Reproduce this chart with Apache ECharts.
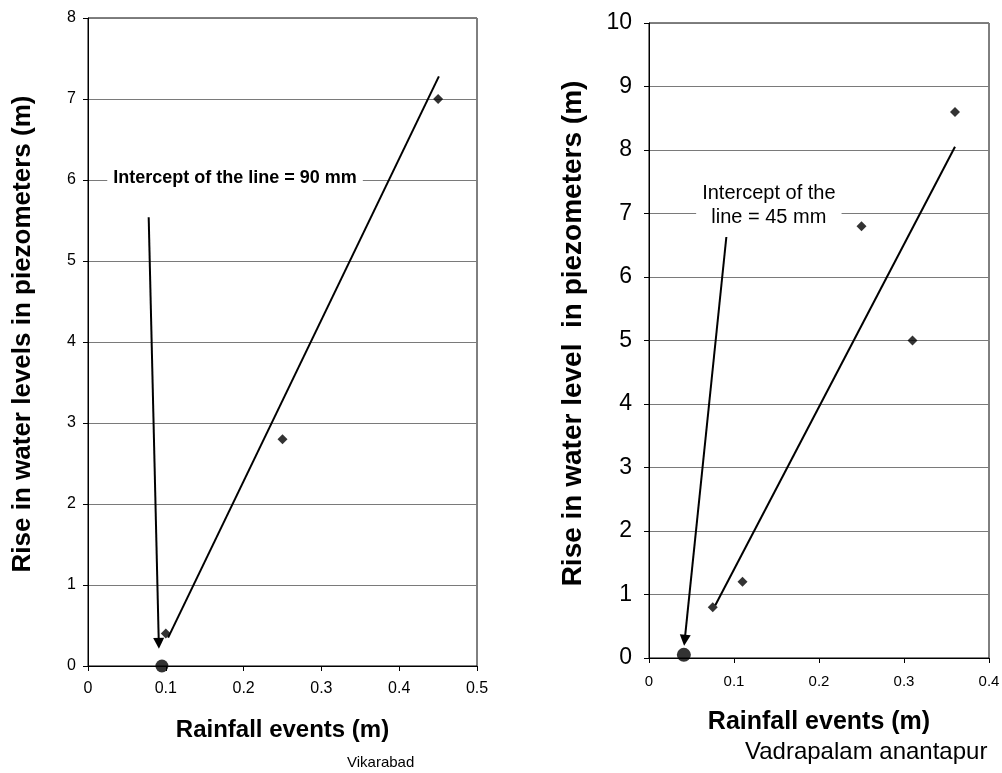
<!DOCTYPE html>
<html>
<head>
<meta charset="utf-8">
<script src="https://cdn.jsdelivr.net/npm/echarts@6/dist/echarts.min.js"></script>
<style>
  html, body { margin: 0; padding: 0; background: #fff; }
  #chart { width: 1002px; height: 773px; }
</style>
</head>
<body>
<div id="chart"></div>
<script>
// Vikarabad (left panel)
var vikRain = [0.1, 0.25, 0.45];
var vikRise = [0.4, 2.8, 7.0];
var vikFit = [[0.103, 0.35], [0.451, 7.28]];
var vikIntercept = [[0.095, 0]];
var vikArrow = [[0.078, 5.54], [0.091, 0.28]];
var vikNote = 'Intercept of the line = 90 mm';
var vikNoteAt = [0.189, 6.02];

// Vadrapalam anantapur (right panel)
var vadRain = [0.075, 0.11, 0.25, 0.31, 0.36];
var vadRise = [0.8, 1.2, 6.8, 5.0, 8.6];
var vadFit = [[0.078, 0.83], [0.36, 8.05]];
var vadIntercept = [[0.041, 0.05]];
var vadArrow = [[0.091, 6.63], [0.042, 0.28]];
var vadNote = 'Intercept of the\nline = 45 mm';
var vadNoteAt = [0.141, 7.13];

var FONT = '"Liberation Sans", Arial, sans-serif';

function pairs(xs, ys) {
    return xs.map(function (x, i) { return [x, ys[i]]; });
}

function arrowLine(pts) {
    return {
        silent: true,
        symbol: ['none', 'triangle'],
        symbolSize: 11,
        label: { show: false },
        itemStyle: { color: '#000' },
        lineStyle: { color: '#000', width: 2, type: 'solid' },
        emphasis: { disabled: true },
        data: [[{ coord: pts[0] }, { coord: pts[1] }]]
    };
}

function note(text, at, bold, size, lh) {
    return {
        silent: true,
        symbol: 'rect',
        symbolSize: 0,
        label: {
            show: true,
            position: 'inside',
            formatter: text,
            color: '#000',
            fontFamily: FONT,
            fontSize: size,
            fontWeight: bold ? 'bold' : 'normal',
            lineHeight: lh,
            backgroundColor: '#fff',
            padding: [1, 6],
            align: 'center'
        },
        data: [{ coord: at }]
    };
}

function xAx(idx, max, labelSize, margin) {
    return {
        type: 'value', gridIndex: idx, min: 0, max: max, interval: 0.1,
        name: 'Rainfall events (m)', nameLocation: 'middle', nameGap: 52,
        nameTextStyle: { fontFamily: FONT, fontSize: idx ? 25 : 24, fontWeight: 'bold', color: '#000' },
        axisLine: { onZero: false, lineStyle: { color: '#000', width: 1 } },
        axisTick: { show: true, length: 5, lineStyle: { color: '#000' } },
        axisLabel: { fontFamily: FONT, fontSize: labelSize, color: '#000', margin: margin },
        splitLine: { show: false }
    };
}

function yAx(idx, max, labelSize, name, gap, nameSize, shift, margin) {
    return {
        type: 'value', gridIndex: idx, min: 0, max: max, interval: 1,
        name: name, nameLocation: 'middle', nameGap: gap,
        nameTextStyle: { fontFamily: FONT, fontSize: nameSize, fontWeight: 'bold', color: '#000', padding: [0, 0, 0, shift] },
        axisLine: { show: true, onZero: false, lineStyle: { color: '#000', width: 1 } },
        axisTick: { show: true, length: 5, lineStyle: { color: '#000' } },
        axisLabel: { fontFamily: FONT, fontSize: labelSize, color: '#000', margin: margin },
        splitLine: { show: true, lineStyle: { color: '#7a7a7a', width: 1 } }
    };
}

var chart = echarts.init(document.getElementById('chart'));
var option = {
    animation: false,
    backgroundColor: '#fff',
    grid: [
        { left: 88, top: 18, width: 389, height: 648, show: true, borderColor: '#000', borderWidth: 1, outerBoundsMode: 'none' },
        { left: 649, top: 23, width: 340, height: 635, show: true, borderColor: '#000', borderWidth: 1, outerBoundsMode: 'none' }
    ],
    xAxis: [xAx(0, 0.5, 16, 15), xAx(1, 0.4, 15, 16)],
    yAxis: [
        yAx(0, 8, 16, 'Rise in water levels in piezometers (m)', 52, 26, 16, 12),
        yAx(1, 10, 23, 'Rise in water level  in piezometers (m)', 62, 28, 14, 17)
    ],
    graphic: [
        { type: 'text', left: 347, top: 755, style: { text: 'Vikarabad', font: '15px ' + FONT, fill: '#000' } },
        { type: 'text', left: 745, top: 740, style: { text: 'Vadrapalam anantapur', font: '24px ' + FONT, fill: '#000' } }
    ],
    series: [
        {
            type: 'line', xAxisIndex: 0, yAxisIndex: 0, data: vikFit,
            showSymbol: false, silent: true,
            lineStyle: { color: '#000', width: 2 },
            markLine: arrowLine(vikArrow),
            markPoint: note(vikNote, vikNoteAt, true, 18, 22)
        },
        {
            type: 'scatter', xAxisIndex: 0, yAxisIndex: 0, data: pairs(vikRain, vikRise),
            symbol: 'diamond', symbolSize: 10, itemStyle: { color: '#000' }
        },
        {
            type: 'scatter', xAxisIndex: 0, yAxisIndex: 0, data: vikIntercept,
            symbol: 'circle', symbolSize: 13, itemStyle: { color: '#000' }
        },
        {
            type: 'line', xAxisIndex: 1, yAxisIndex: 1, data: vadFit,
            showSymbol: false, silent: true,
            lineStyle: { color: '#000', width: 2 },
            markLine: arrowLine(vadArrow),
            markPoint: note(vadNote, vadNoteAt, false, 20, 24)
        },
        {
            type: 'scatter', xAxisIndex: 1, yAxisIndex: 1, data: pairs(vadRain, vadRise),
            symbol: 'diamond', symbolSize: 10, itemStyle: { color: '#000' }
        },
        {
            type: 'scatter', xAxisIndex: 1, yAxisIndex: 1, data: vadIntercept,
            symbol: 'circle', symbolSize: 14, itemStyle: { color: '#000' }
        }
    ]
};
chart.setOption(option);
</script>
</body>
</html>
